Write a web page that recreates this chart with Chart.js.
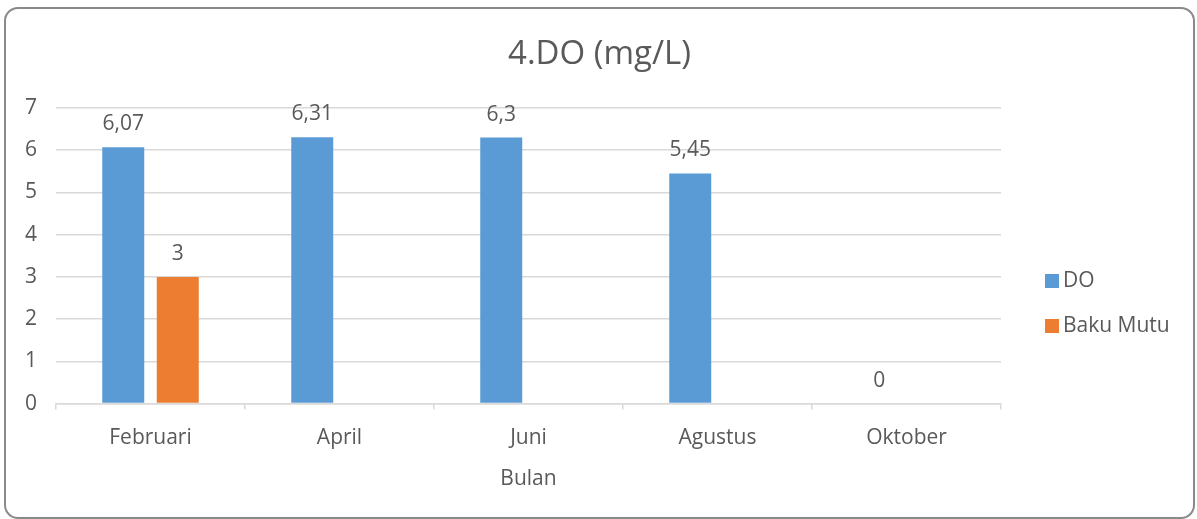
<!DOCTYPE html>
<html>
<head>
<meta charset="utf-8">
<script src="https://cdn.jsdelivr.net/npm/chart.js@4.4.0/dist/chart.umd.min.js"></script>
<style>
  html, body { margin: 0; padding: 0; background: #fff; }
  #frame {
    position: absolute; left: 4px; top: 7px;
    width: 1187px; height: 508px;
    border: 2px solid #8a8a8a; border-radius: 14px;
    overflow: hidden;
  }
  #frame canvas { display: block; }
</style>
</head>
<body>
<div id="frame"><canvas id="doChart"></canvas></div>
<script>
/* ── Data ── */
const categories = ['Februari', 'April', 'Juni', 'Agustus', 'Oktober'];
const doValues = [6.07, 6.31, 6.3, 5.45, 0];
const bakuMutuValues = [3, null, null, null, null];
const yMin = 0;
const yMax = 7;
const yStep = 1;
const chartTitle = '4.DO (mg/L)';

const TEXT = '#595959';
const FONT = "'Open Sans', 'Noto Sans', sans-serif";
const FS = 21;

/* value labels above each bar, decimal comma like the source */
const barLabels = {
  id: 'barLabels',
  afterDatasetsDraw(chart) {
    const c = chart.ctx;
    c.save();
    c.font = FS + 'px ' + FONT;
    c.fillStyle = TEXT;
    c.textAlign = 'center';
    c.textBaseline = 'middle';
    chart.data.datasets.forEach((ds, i) => {
      chart.getDatasetMeta(i).data.forEach((bar, j) => {
        const v = ds.data[j];
        if (v === null || v === undefined) return;
        c.fillText(String(v).replace('.', ','), bar.x, bar.y - 23);
      });
    });
    c.restore();
  }
};

/* title centred on the whole frame, legend right of the plot */
const frameDecor = {
  id: 'frameDecor',
  afterDraw(chart) {
    const c = chart.ctx;
    const a = chart.chartArea;
    c.save();
    c.fillStyle = TEXT;
    c.textAlign = 'center';
    c.textBaseline = 'middle';
    c.font = '33px ' + FONT;
    c.fillText(chartTitle, chart.width / 2, 46);

    c.textAlign = 'left';
    c.font = FS + 'px ' + FONT;
    chart.data.datasets.forEach((ds, i) => {
      const y = a.top + 173 + i * 45;
      const x = a.right + 44;
      c.fillStyle = ds.backgroundColor;
      c.fillRect(x, y - 7, 14, 14);
      c.fillStyle = TEXT;
      c.fillText(ds.label, x + 18, y);
    });
    c.restore();
  }
};

new Chart(document.getElementById('doChart'), {
  type: 'bar',
  data: {
    labels: categories,
    datasets: [
      { label: 'DO', data: doValues, backgroundColor: '#5b9bd5' },
      { label: 'Baku Mutu', data: bakuMutuValues, backgroundColor: '#ed7d31' }
    ]
  },
  options: {
    responsive: true,
    maintainAspectRatio: false,
    animation: false,
    categoryPercentage: 0.577,
    barPercentage: 0.77,
    layout: { padding: { left: 0, right: 192, top: 99, bottom: 21 } },
    plugins: {
      title: { display: false },
      legend: { display: false },
      tooltip: { enabled: false }
    },
    scales: {
      x: {
        grid: {
          offset: true,
          drawOnChartArea: false,
          drawTicks: true,
          tickLength: 6,
          color: '#d9d9d9',
          lineWidth: 1.5
        },
        border: { color: '#d9d9d9', width: 1.5 },
        ticks: { color: TEXT, font: { size: FS, family: FONT }, padding: 16 },
        title: {
          display: true,
          text: 'Bulan',
          color: TEXT,
          font: { size: FS, family: FONT },
          padding: { top: 0 }
        }
      },
      y: {
        min: yMin,
        max: yMax,
        ticks: {
          stepSize: yStep,
          color: TEXT,
          font: { size: FS, family: FONT },
          padding: 19
        },
        grid: { color: '#d9d9d9', lineWidth: 1.5, drawTicks: false },
        border: { display: false }
      }
    }
  },
  plugins: [barLabels, frameDecor]
});
</script>
</body>
</html>
